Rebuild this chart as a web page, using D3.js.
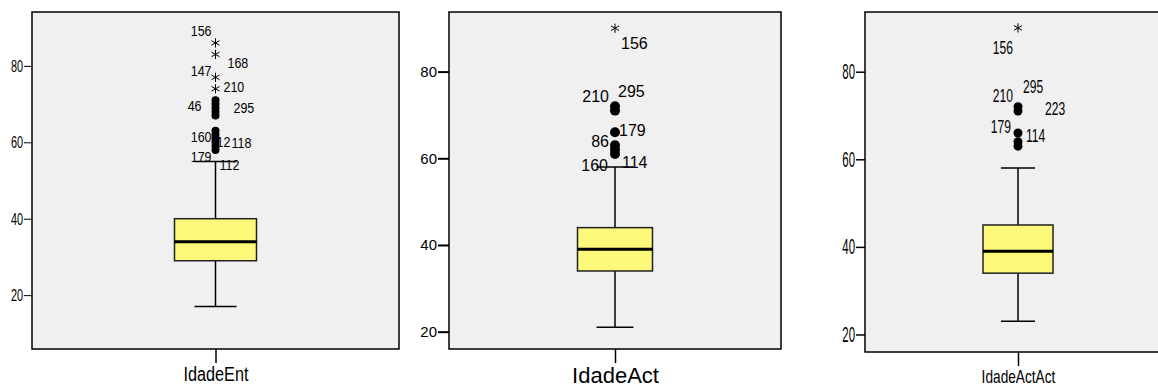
<!DOCTYPE html>
<html>
<head>
<meta charset="utf-8">
<script src="https://cdn.jsdelivr.net/npm/d3@7"></script>
<style>
  body { margin: 0; background: #ffffff; }
</style>
</head>
<body>
<div id="chart"></div>
<script>
// --- data ---
var variables = ["IdadeEnt", "IdadeAct", "IdadeActAct"];
var whiskerLow = [17, 21, 23];
var q1 = [29, 34, 34];
var median = [34, 39, 39];
var q3 = [40, 44, 45];
var whiskerHigh = [55, 58, 58];
var yTicks = [20, 40, 60, 80];

// circles (outliers) and stars (extremes)
var outliers = [
  [58, 59, 60, 61, 62, 63, 67, 68, 69, 70, 71],
  [61, 62, 63, 66, 71, 72],
  [63, 64, 66, 71, 72]
];
var extremes = [
  [74, 77, 83, 86],
  [90],
  [90]
];

// case labels: [case id, value of the point it names]
var caseLabels = [
  [["156", 86], ["168", 83], ["147", 77], ["210", 74], ["46", 71], ["295", 70],
   ["160", 62], ["12", 61], ["118", 61], ["179", 58], ["112", 58]],
  [["156", 90], ["295", 72], ["210", 71], ["179", 66], ["86", 63], ["160", 61], ["114", 61]],
  [["156", 90], ["295", 72], ["210", 72], ["223", 71], ["179", 66], ["114", 65]]
];

// --- layout (pixels) ---
// sizes are [font size, horizontal squeeze]
var panels = [
  {left: 32, right: 399, top: 12, bottom: 349, domain: [5.9, 94.1], boxHalf: 41, capHalf: 21, r: 4,
   label: [15, 0.83], tick: [17, 0.64], title: [20, 0.81], tickLen: 8, tickW: 1,
   // [dx, dy, anchor] per label
   offs: [[-4, -12, "end"], [12, 8, "start"], [-4, -7, "end"], [8, -2, "start"], [-14, 5, "end"], [18, 4, "start"],
          [-4, 2.5, "end"], [1, 3.5, "start"], [16, 4.5, "start"], [-4, 7, "end"], [4, 15, "start"]]},
  {left: 449, right: 781, top: 12, bottom: 349, domain: [16, 93.75], boxHalf: 37.5, capHalf: 18.5, r: 5,
   label: [16, 1], tick: [15, 1], title: [22, 1], tickLen: 11, tickW: 2,
   offs: [[6, 15, "start"], [3, -15, "start"], [-6, -14, "end"], [4, -2, "start"], [-6, -4, "end"],
          [-7, 11, "end"], [7, 8, "start"]]},
  {left: 865, right: 1171, top: 12, bottom: 352, domain: [16, 93.63], boxHalf: 35, capHalf: 17, r: 4.5,
   label: [18, 0.67], tick: [22, 0.52], title: [19, 0.72], tickLen: 9, tickW: 1.5,
   offs: [[-5, 20, "end"], [5, -20, "start"], [-5, -11, "end"], [27, -2, "start"], [-7, -6, "end"], [8, -2, "start"]]}
];

var font = "'Liberation Sans', Arial, sans-serif";

// squeeze a text horizontally like the narrow SPSS font
function squeeze(sel, k) {
  if (k === 1) return;
  sel.each(function () {
    var w = this.getComputedTextLength();
    d3.select(this).attr("textLength", w * k).attr("lengthAdjust", "spacingAndGlyphs");
  });
}

var svg = d3.select("#chart").append("svg")
  .attr("width", 1158)
  .attr("height", 387);

panels.forEach(function (p, i) {
  var g = svg.append("g");

  var y = d3.scaleLinear().domain(p.domain).range([p.bottom, p.top]);
  var x = d3.scalePoint().domain([variables[i]]).range([p.left, p.right]).padding(0.5);
  var cx = x(variables[i]);

  // plot area
  g.append("rect")
    .attr("x", p.left).attr("y", p.top)
    .attr("width", p.right - p.left).attr("height", p.bottom - p.top)
    .attr("fill", "#f0f0f0")
    .attr("stroke", "#000").attr("stroke-width", 1.5);

  // y axis
  var yAxis = g.append("g")
    .attr("transform", "translate(" + p.left + ",0)")
    .call(d3.axisLeft(y).tickValues(yTicks).tickSize(p.tickLen).tickSizeOuter(0).tickPadding(1));
  yAxis.select(".domain").remove();
  yAxis.selectAll(".tick line").attr("stroke", "#000").attr("stroke-width", p.tickW);
  yAxis.selectAll(".tick text")
    .attr("font-family", font)
    .attr("font-size", p.tick[0] + "px")
    .attr("fill", "#000")
    .call(squeeze, p.tick[1]);

  // x axis
  var xAxis = g.append("g")
    .attr("transform", "translate(0," + p.bottom + ")")
    .call(d3.axisBottom(x).tickSize(14).tickPadding(4));
  xAxis.select(".domain").remove();
  xAxis.selectAll(".tick line").attr("stroke", "#000").attr("stroke-width", 1.5);
  xAxis.selectAll(".tick text")
    .attr("font-family", font)
    .attr("font-size", p.title[0] + "px")
    .attr("fill", "#000")
    .call(squeeze, p.title[1]);

  // whisker
  g.append("line")
    .attr("x1", cx).attr("x2", cx)
    .attr("y1", y(whiskerLow[i])).attr("y2", y(whiskerHigh[i]))
    .attr("stroke", "#000").attr("stroke-width", 1.5);
  [whiskerLow[i], whiskerHigh[i]].forEach(function (v) {
    g.append("line")
      .attr("x1", cx - p.capHalf).attr("x2", cx + p.capHalf)
      .attr("y1", y(v)).attr("y2", y(v))
      .attr("stroke", "#000").attr("stroke-width", 1.5);
  });

  // box
  g.append("rect")
    .attr("x", cx - p.boxHalf).attr("y", y(q3[i]))
    .attr("width", p.boxHalf * 2).attr("height", y(q1[i]) - y(q3[i]))
    .attr("fill", "#fbf87a")
    .attr("stroke", "#222").attr("stroke-width", 1.5);
  g.append("line")
    .attr("x1", cx - p.boxHalf).attr("x2", cx + p.boxHalf)
    .attr("y1", y(median[i])).attr("y2", y(median[i]))
    .attr("stroke", "#000").attr("stroke-width", 3);

  // outlier circles
  g.append("g").selectAll("circle")
    .data(outliers[i])
    .join("circle")
    .attr("cx", cx)
    .attr("cy", function (d) { return y(d); })
    .attr("r", p.r)
    .attr("fill", "#000");

  // extreme stars
  g.append("g").selectAll("path")
    .data(extremes[i])
    .join("path")
    .attr("transform", function (d) { return "translate(" + cx + "," + y(d) + ")"; })
    .attr("d", d3.symbol(d3.symbolAsterisk, 60))
    .attr("fill", "none")
    .attr("stroke", "#000")
    .attr("stroke-width", 1);

  // case labels
  g.append("g").selectAll("text")
    .data(caseLabels[i])
    .join("text")
    .attr("x", function (d, j) { return cx + p.offs[j][0]; })
    .attr("y", function (d, j) { return y(d[1]) + p.offs[j][1]; })
    .attr("dy", "0.35em")
    .attr("text-anchor", function (d, j) { return p.offs[j][2]; })
    .attr("font-family", font)
    .attr("font-size", p.label[0] + "px")
    .attr("fill", "#000")
    .text(function (d) { return d[0]; })
    .call(squeeze, p.label[1]);
});
</script>
</body>
</html>
